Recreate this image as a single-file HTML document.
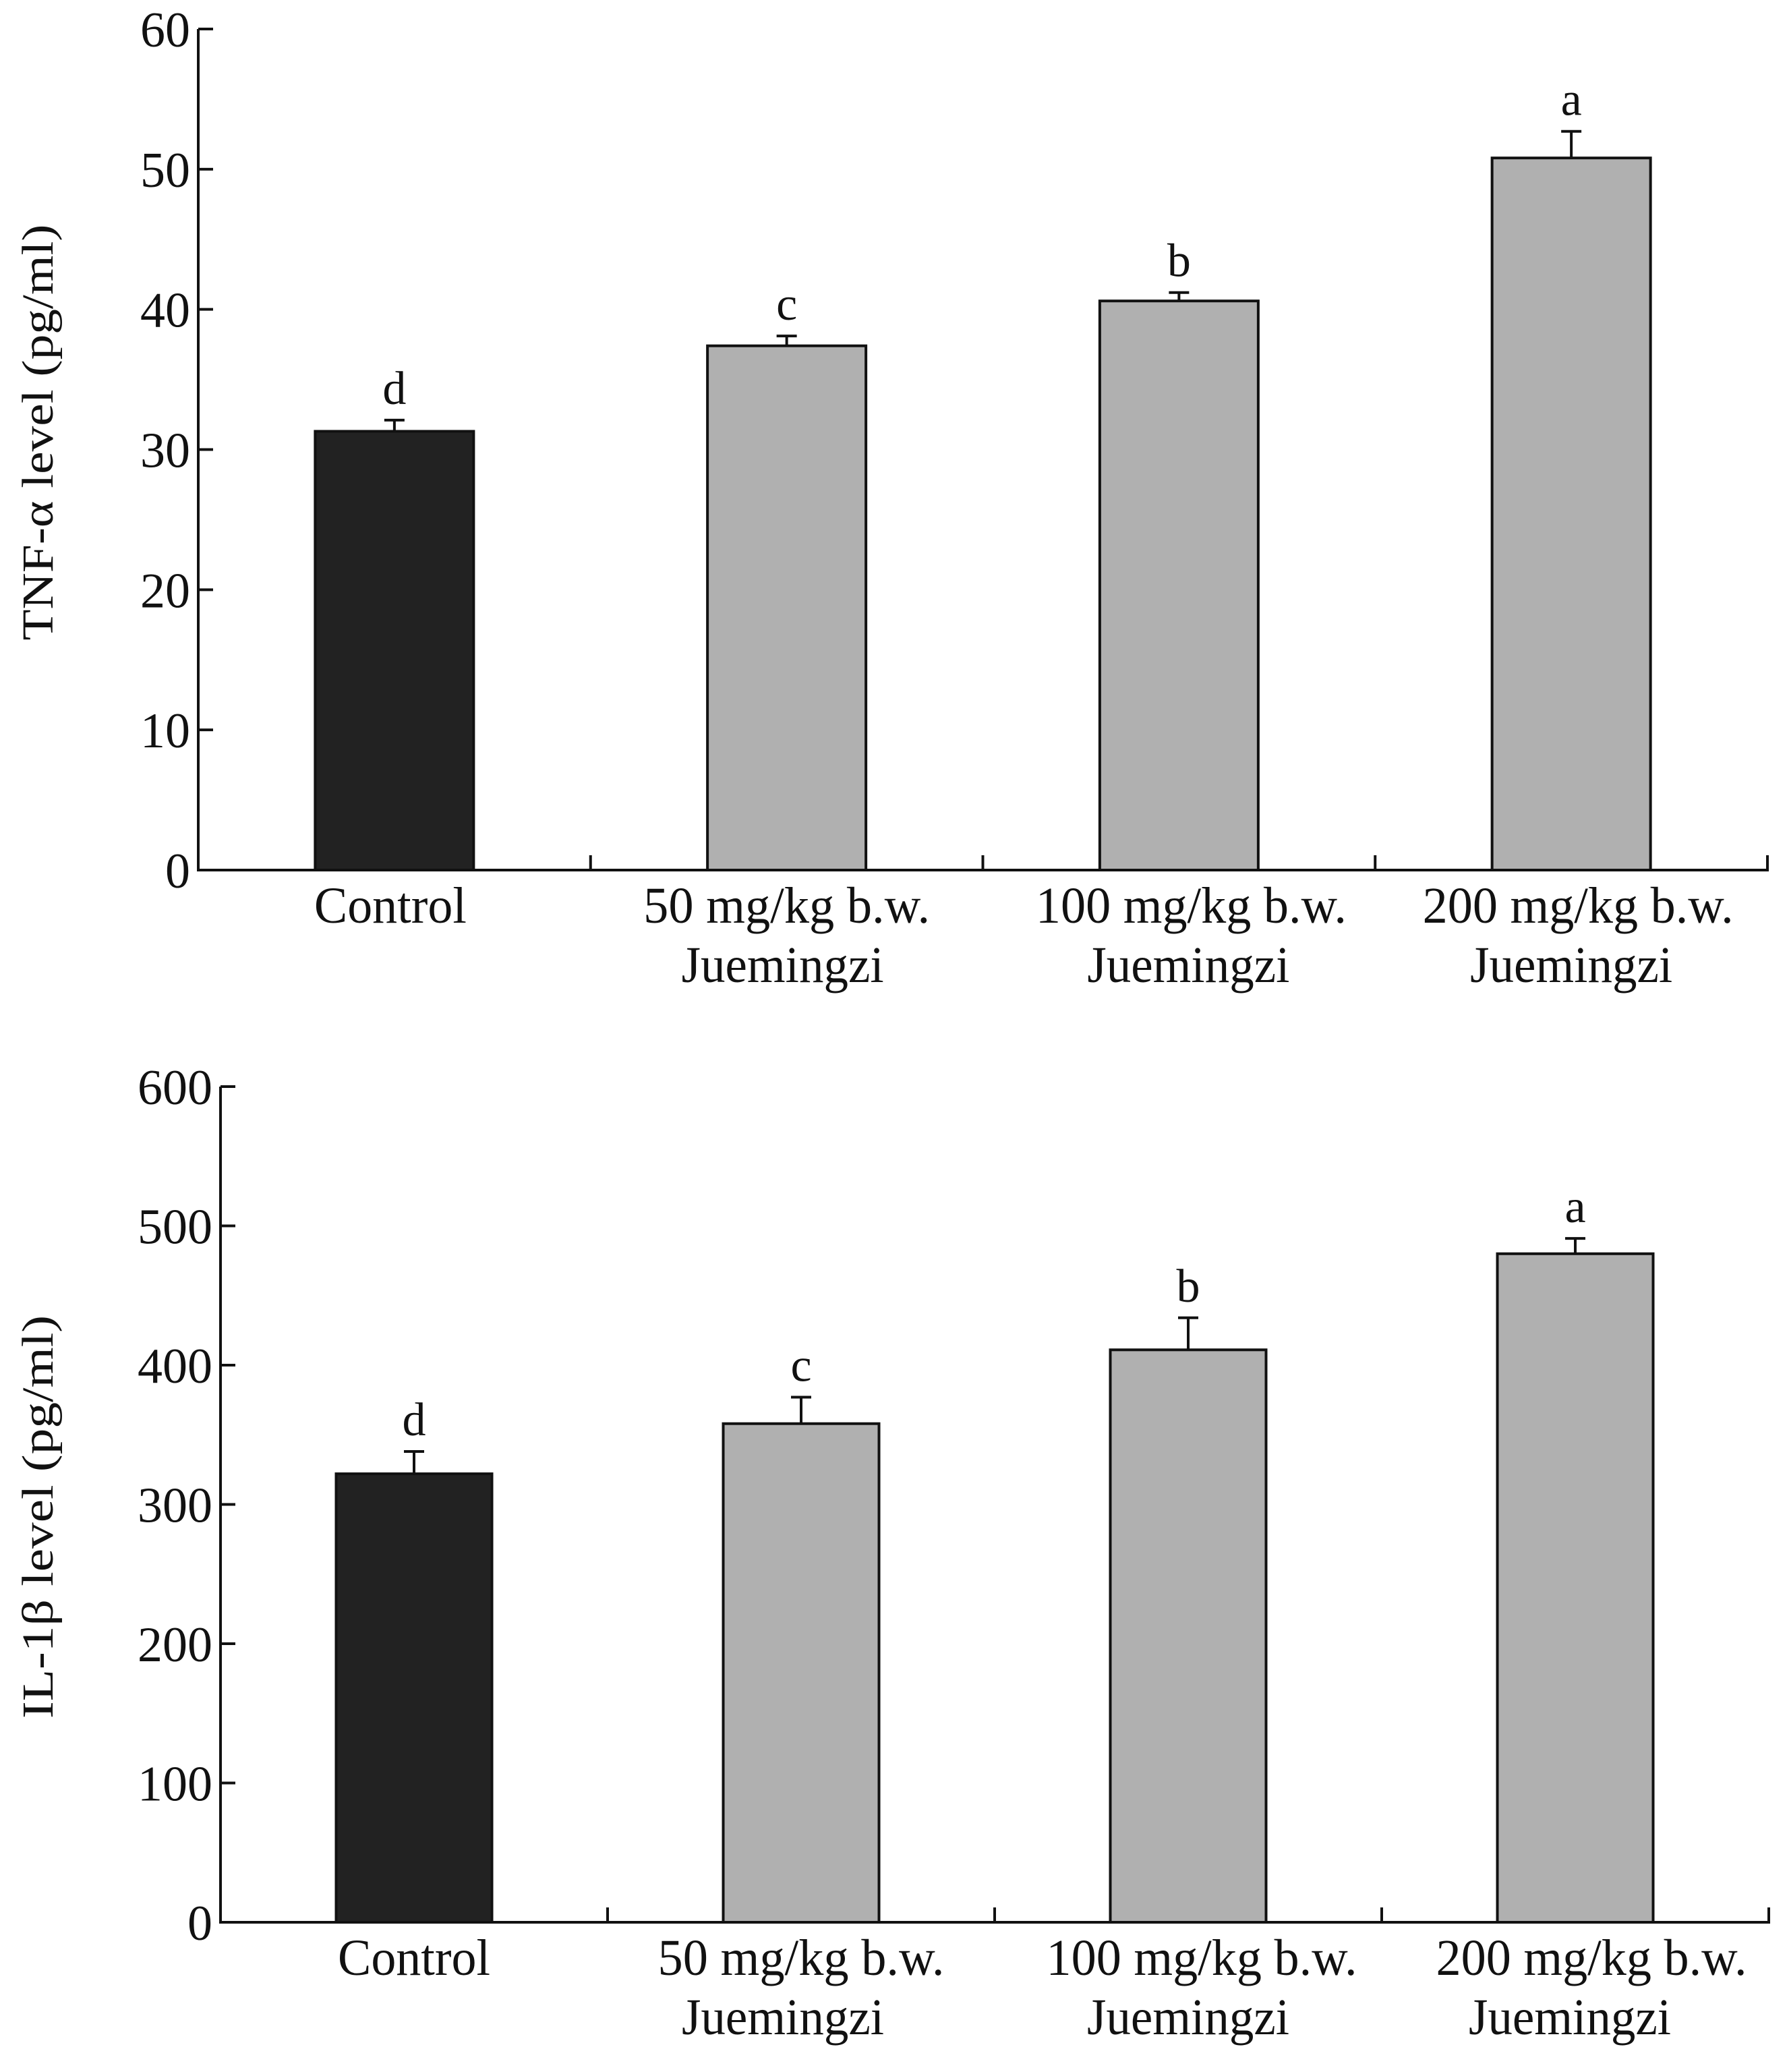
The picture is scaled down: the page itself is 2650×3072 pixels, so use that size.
<!DOCTYPE html>
<html><head><meta charset="utf-8"><style>
html,body{margin:0;padding:0;background:#fff;}
svg{display:block;font-family:"Liberation Serif",serif;}
</style></head><body>
<svg id="fig" width="2650" height="3072" viewBox="0 0 2650 3072" xmlns="http://www.w3.org/2000/svg">
<rect width="2650" height="3072" fill="#fff"/>
</svg>
<script>
const categories = ["Control", "50 mg/kg b.w.|Juemingzi", "100 mg/kg b.w.|Juemingzi", "200 mg/kg b.w.|Juemingzi"];
const tnfValues = [31.3, 37.4, 40.6, 50.8];
const tnfErrors = [0.8, 0.7, 0.6, 1.9];
const tnfLetters = ["d", "c", "b", "a"];
const tnfTicks = [0, 10, 20, 30, 40, 50, 60];
const ilValues = [322, 358, 411, 480];
const ilErrors = [16, 19, 23, 11];
const ilLetters = ["d", "c", "b", "a"];
const ilTicks = [0, 100, 200, 300, 400, 500, 600];

const NS = "http://www.w3.org/2000/svg";
const svg = document.getElementById("fig");
function el(tag, attrs, parent) {
  const e = document.createElementNS(NS, tag);
  for (const k in attrs) e.setAttribute(k, attrs[k]);
  (parent || svg).appendChild(e);
  return e;
}

function drawPanel(cfg) {
  const g = el("g", {});
  
  
  const x0 = cfg.x0, x1 = cfg.x1, yTop = cfg.yTop, yBot = cfg.yBot;
  const max = cfg.ticks[cfg.ticks.length - 1];
  const yScale = v => yBot - (v / max) * (yBot - yTop);
  const cw = (x1 - x0) / categories.length;
  const xCenter = i => x0 + cw * (i + 0.5);

  const ya = el("line", {x1: x0, y1: yTop, x2: x0, y2: yBot + 2, stroke: "#111", "stroke-width": 4}, g);
  
  
  const xa = el("line", {x1: x0 - 2, y1: yBot, x2: x1 + 2, y2: yBot, stroke: "#111", "stroke-width": 4}, g);
  
  

  cfg.ticks.forEach(t => {
    const y = yScale(t);
    const tk = el("line", {x1: x0, y1: y, x2: x0 + 22, y2: y, stroke: "#111", "stroke-width": 4}, g);
    
    
    const tl = el("text", {x: x0 - 12, y: y + 26, "text-anchor": "end", "font-size": 74, fill: "#111"}, g);
    tl.textContent = String(t);
    
    
  });
  for (let i = 1; i <= categories.length; i++) {
    const x = x0 + cw * i;
    const tk = el("line", {x1: x, y1: yBot, x2: x, y2: yBot - 22, stroke: "#111", "stroke-width": 4}, g);
    
    
  }

  cfg.values.forEach((v, i) => {
    const cx = xCenter(i);
    const bw = cfg.barW;
    const yv = yScale(v);
    const bar = el("rect", {x: cx - bw / 2, y: yv, width: bw, height: yBot - yv,
      fill: i === 0 ? "#222" : "#b0b0b0", stroke: "#111", "stroke-width": 4}, g);
    
    
    const ye = yScale(v + cfg.errors[i]);
    const eb = el("path", {d: `M${cx},${yv} V${ye} M${cx - 15},${ye} H${cx + 15}`, stroke: "#111", "stroke-width": 4, fill: "none"}, g);
    
    
    const lt = el("text", {x: cx, y: ye - 24, "text-anchor": "middle", "font-size": 70, fill: "#111"}, g);
    lt.textContent = cfg.letters[i];
    
    

    const lines = categories[i].split("|");
    lines.forEach((ln, j) => {
      const w = j === 0 ? (i === 0 ? 226 : (i === 1 ? 425 : 461)) : 300;
      const off = j === 0 ? cfg.off1[i] : cfg.off2[i];
      const t = el("text", {x: cx + off, y: cfg.labelY + j * 88, "text-anchor": "middle", "font-size": 76, fill: "#111",
        textLength: w, lengthAdjust: "spacingAndGlyphs"}, g);
      t.textContent = ln;
      
      
    });
  });

  const yt = el("text", {x: 0, y: 0, "text-anchor": "middle", "font-size": 66, fill: "#111",
    transform: `translate(${cfg.titleX},${cfg.titleY}) rotate(-90)`, textLength: cfg.titleLen, lengthAdjust: "spacingAndGlyphs"}, g);
  yt.textContent = cfg.title;
  
  
}

drawPanel({name: "tnf-alpha-chart", x0: 294, x1: 2621, yTop: 43, yBot: 1290, ticks: tnfTicks,
  values: tnfValues, errors: tnfErrors, letters: tnfLetters, barW: 235, labelY: 1368,
  off1: [-6, 0, 18, 10], off2: [0, -6, 14, 0],
  title: "TNF-α level (pg/ml)", titleX: 78, titleY: 641, titleLen: 617});
drawPanel({name: "il-1beta-chart", x0: 327, x1: 2623, yTop: 1611, yBot: 2850, ticks: ilTicks,
  values: ilValues, errors: ilErrors, letters: ilLetters, barW: 231, labelY: 2928,
  off1: [0, 0, 20, 24], off2: [0, -27, 0, -8],
  title: "IL-1β level (pg/ml)", titleX: 78, titleY: 2249, titleLen: 598});
</script>
</body></html>
